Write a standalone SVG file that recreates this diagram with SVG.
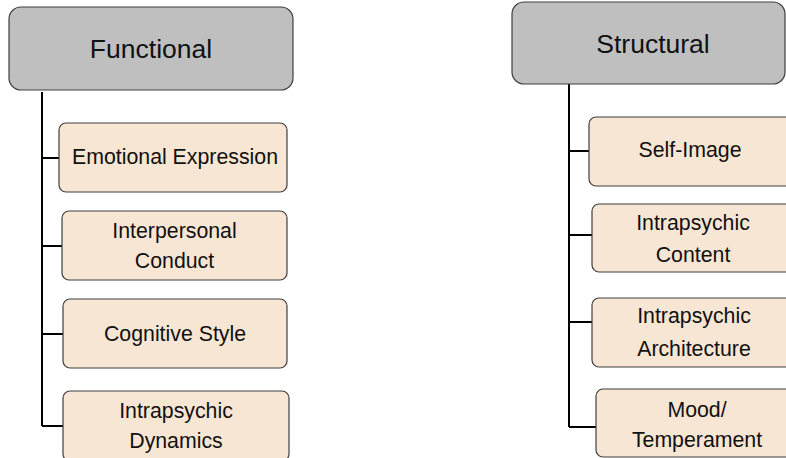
<svg xmlns="http://www.w3.org/2000/svg" width="786" height="458" viewBox="0 0 786 458">
<style>
.hdr{fill:#bfbfbf;stroke:#3f3f3f;stroke-width:1.2}
.box{fill:#f7e6d3;stroke:#3f3f3f;stroke-width:1.2}
.ht{font-family:"Liberation Sans",Arial,sans-serif;font-size:26.5px;fill:#111;text-anchor:middle}
.bt{font-family:"Liberation Sans",Arial,sans-serif;font-size:21.3px;fill:#111;text-anchor:middle}
.ln{stroke:#000;stroke-width:2;fill:none}
</style>
<rect width="786" height="458" fill="#fff"/>
<g id="connectors">
<path class="ln" d="M42,92 V426 M42,158 H59 M42,246 H62 M42,334 H63 M42,426 H63"/>
<path class="ln" d="M569,84 V427 M569,151 H589 M569,235 H592 M569,322 H592 M569,427 H596"/>
</g>
<g id="functional"><rect class="hdr" x="9" y="7" width="284" height="83" rx="12"/><text class="ht" x="151" y="58">Functional</text></g>
<g id="emotional-expression"><rect class="box" x="59" y="123" width="228" height="69" rx="7"/><text class="bt" x="175" y="164">Emotional Expression</text></g>
<g id="interpersonal-conduct"><rect class="box" x="62" y="211" width="225" height="69" rx="7"/><text class="bt" x="174.5" y="238">Interpersonal</text><text class="bt" x="174.5" y="268">Conduct</text></g>
<g id="cognitive-style"><rect class="box" x="63" y="299" width="224" height="69" rx="7"/><text class="bt" x="175" y="341">Cognitive Style</text></g>
<g id="intrapsychic-dynamics"><rect class="box" x="63" y="391" width="226" height="70" rx="7"/><text class="bt" x="176" y="418">Intrapsychic</text><text class="bt" x="176" y="448">Dynamics</text></g>
<g id="structural"><rect class="hdr" x="512" y="2" width="273" height="82" rx="12"/><text class="ht" x="653" y="53">Structural</text></g>
<g id="self-image"><rect class="box" x="589" y="117" width="210" height="69" rx="7"/><text class="bt" x="690" y="157">Self-Image</text></g>
<g id="intrapsychic-content"><rect class="box" x="592" y="204" width="210" height="68" rx="7"/><text class="bt" x="693" y="230">Intrapsychic</text><text class="bt" x="693" y="262">Content</text></g>
<g id="intrapsychic-architecture"><rect class="box" x="592" y="298" width="210" height="69" rx="7"/><text class="bt" x="694" y="323">Intrapsychic</text><text class="bt" x="694" y="356">Architecture</text></g>
<g id="mood-temperament"><rect class="box" x="596" y="389" width="210" height="68" rx="7"/><text class="bt" x="697" y="417">Mood/</text><text class="bt" x="697" y="447">Temperament</text></g>
</svg>
